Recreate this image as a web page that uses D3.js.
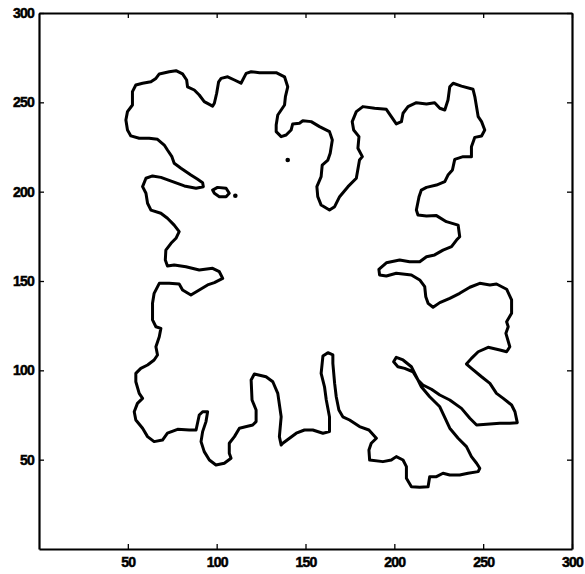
<!DOCTYPE html>
<html>
<head>
<meta charset="utf-8">
<script src="https://cdn.jsdelivr.net/npm/d3@7"></script>
<style>
  html, body { margin: 0; padding: 0; background: #fff; }
  svg { display: block; }
  .tick text { font-family: "Liberation Sans", Arial, sans-serif; font-weight: bold; font-size: 14px; letter-spacing: -0.8px; fill: #000; stroke: #000; stroke-width: 0.5px; }
</style>
</head>
<body>
<svg id="chart" width="585" height="574"></svg>
<script>
// ---- data (data units) ----
const xTicks = [50, 100, 150, 200, 250, 300];
const yTicks = [50, 100, 150, 200, 250, 300];

const outerContour = [
[48.9,240.1],[49.8,244.8],[52.6,248.5],[52.6,256.0],[54.5,259.7],[58.3,260.7],[63.0,261.5],[65.8,263.4],[67.7,265.9],[73.3,267.1],[77.1,267.7],[80.8,265.9],[83.1,262.5],[83.6,258.7],[87.4,256.9],[90.2,254.1],[93.0,250.4],[97.7,247.9],[98.7,249.5],[100.0,255.1],[101.1,261.5],[102.5,263.4],[106.2,264.3],[110.0,262.5],[113.7,260.7],[116.6,266.2],[119.4,267.1],[124.1,266.6],[133.5,266.6],[138.2,264.3],[140.0,258.7],[138.7,253.2],[138.2,248.5],[136.3,245.7],[134.4,242.9],[133.5,237.3],[133.5,233.6],[136.3,230.8],[139.1,231.7],[141.9,234.5],[142.8,237.9],[146.6,238.3],[148.5,239.7],[153.2,239.2],[157.9,236.4],[163.5,233.6],[165.1,228.9],[163.9,221.5],[162.6,217.7],[159.4,214.9],[158.8,208.4],[156.4,202.8],[156.9,197.2],[158.8,192.5],[163.5,189.7],[166.4,191.6],[169.2,197.2],[173.9,202.8],[178.6,207.5],[180.4,217.7],[182.0,219.6],[179.5,224.3],[180.1,230.8],[177.1,234.5],[176.3,239.2],[178.6,244.8],[182.3,247.6],[188.9,246.7],[195.5,246.1],[198.3,242.0],[201.1,237.9],[204.0,239.2],[204.9,243.9],[207.7,247.6],[212.4,249.8],[218.1,249.1],[222.7,249.8],[225.6,246.7],[228.4,245.7],[230.2,251.3],[231.2,258.7],[233.1,260.7],[237.8,259.1],[244.3,257.3],[245.3,253.2],[247.2,242.0],[249.1,239.2],[250.9,234.5],[249.1,231.2],[245.3,230.4],[243.4,225.2],[243.4,219.6],[238.7,219.6],[234.0,218.1],[232.7,212.1],[230.2,209.3],[228.4,205.6],[223.7,203.7],[218.1,202.4],[215.2,200.9],[213.9,197.2],[212.4,189.7],[213.3,186.9],[218.1,186.4],[223.7,186.6],[229.3,183.2],[235.9,181.3],[236.8,174.8],[235.0,172.9],[232.2,169.2],[227.4,167.3],[222.7,164.6],[218.1,163.6],[214.3,160.8],[208.6,160.8],[203.0,161.8],[195.5,160.2],[191.3,156.5],[191.7,153.4],[195.5,152.8],[201.1,154.3],[209.6,153.4],[214.3,150.6],[217.1,146.8],[217.7,141.2],[219.0,137.5],[221.8,135.3],[225.6,137.9],[231.2,140.3],[236.8,143.1],[242.5,146.5],[248.1,148.7],[253.8,147.8],[257.5,148.3],[263.2,145.4],[266.0,139.4],[266.0,131.9],[263.2,127.2],[264.1,124.4],[262.8,120.7],[265.0,113.2],[263.2,110.4],[259.4,111.4],[252.8,112.9],[247.2,110.4],[243.4,106.7],[240.6,103.5],[243.4,101.1],[249.1,96.4],[253.8,92.7],[257.5,87.1],[261.3,84.3],[266.0,80.6],[267.9,76.8],[269.2,70.7],[265.0,70.4],[259.4,70.4],[253.8,70.0],[246.3,69.4],[242.5,73.2],[237.8,78.7],[231.2,83.4],[225.6,86.2],[220.9,89.4],[216.1,91.8],[213.3,94.6],[210.5,99.2],[205.8,101.1],[202.0,102.0],[199.6,104.8],[201.1,107.3],[204.9,105.8],[209.6,102.0],[212.4,96.4],[215.2,90.8],[219.9,85.2],[225.6,79.6],[231.2,67.6],[235.9,62.0],[240.6,57.3],[243.4,51.7],[246.3,48.0],[248.1,45.2],[247.2,43.3],[241.5,42.4],[236.8,41.4],[231.2,41.4],[227.4,42.4],[223.7,40.5],[219.9,40.5],[219.0,34.9],[214.3,34.5],[209.6,34.9],[206.8,39.6],[206.8,46.1],[204.9,49.8],[201.1,51.7],[198.3,49.8],[193.6,48.9],[186.1,49.8],[185.7,55.4],[187.0,59.2],[189.9,62.0],[185.7,66.6],[180.4,68.5],[174.8,72.2],[171.0,74.0],[168.8,77.8],[167.3,85.2],[166.4,92.7],[165.4,103.9],[165.4,108.6],[162.6,109.9],[159.8,108.0],[158.8,98.3],[160.7,90.8],[161.7,83.4],[163.5,74.0],[163.5,65.7],[159.8,64.8],[154.1,66.6],[149.4,66.6],[144.8,64.8],[141.0,62.0],[137.2,59.2],[136.3,58.2],[135.3,62.9],[136.3,74.0],[134.4,87.1],[131.6,93.6],[127.8,96.4],[121.2,97.9],[119.4,94.6],[119.9,83.4],[122.2,77.8],[122.2,71.3],[120.3,69.4],[112.8,67.6],[110.0,62.9],[107.1,59.2],[107.1,53.6],[108.1,50.8],[104.3,48.0],[99.6,47.0],[95.9,49.8],[93.0,54.5],[91.2,60.1],[92.1,65.7],[94.0,71.3],[94.9,76.8],[92.1,76.8],[90.2,75.0],[88.4,66.6],[84.6,66.6],[78.0,67.0],[72.3,64.8],[69.5,61.0],[64.8,60.1],[61.1,62.9],[58.3,67.6],[54.5,72.2],[53.6,76.8],[55.4,81.5],[58.3,84.3],[56.4,87.1],[54.5,93.6],[54.5,98.3],[57.3,101.1],[61.1,103.0],[64.8,105.8],[66.7,108.6],[65.8,113.2],[67.7,118.8],[68.6,123.5],[65.8,124.4],[63.9,128.2],[63.9,137.5],[64.8,143.1],[67.7,148.7],[73.3,148.7],[78.9,148.3],[80.8,145.0],[85.5,142.2],[90.2,145.0],[94.9,147.8],[98.7,149.1],[103.4,151.5],[101.5,155.2],[97.7,157.1],[90.2,156.2],[82.7,158.0],[76.1,159.0],[72.3,158.4],[71.1,161.8],[71.4,167.3],[74.3,171.1],[77.1,173.9],[78.9,177.6],[76.1,181.3],[72.3,185.1],[68.6,187.9],[63.0,189.7],[61.1,193.5],[60.2,199.1],[58.3,202.8],[60.2,207.5],[63.9,208.8],[68.6,208.0],[75.2,205.6],[81.8,203.2],[88.4,201.9],[92.5,202.8],[92.1,205.0],[89.3,206.9],[85.5,209.3],[79.9,213.1],[76.1,215.9],[74.8,219.6],[72.3,223.3],[70.5,226.1],[66.7,229.3],[62.0,229.9],[56.4,229.9],[51.7,231.2],[49.8,234.5]
];

const holeContour = [
[97.7,200.9],[100.5,202.4],[105.3,201.9],[107.1,199.1],[105.3,197.2],[101.5,197.2],[98.7,199.1]
];

const isolatedPoints = [[110.5,197.7],[140.0,217.7]];

// ---- layout ----
const plotLeft = 39, plotRight = 572, plotTop = 13, plotBottom = 549;

const x = d3.scaleLinear().domain([0, 300]).range([plotLeft, plotRight]);
const y = d3.scaleLinear().domain([0, 300]).range([plotBottom, plotTop]);

const svg = d3.select("#chart");

// axes (inward ticks, box)
const axB = svg.append("g").attr("transform", `translate(0,${plotBottom})`)
  .call(d3.axisBottom(x).tickValues(xTicks).tickSizeInner(-5).tickSizeOuter(0).tickPadding(8));
const axL = svg.append("g").attr("transform", `translate(${plotLeft},0)`)
  .call(d3.axisLeft(y).tickValues(yTicks).tickSizeInner(-5).tickSizeOuter(0).tickPadding(5));
const axT = svg.append("g").attr("transform", `translate(0,${plotTop})`)
  .call(d3.axisTop(x).tickValues(xTicks).tickSizeInner(-5).tickSizeOuter(0).tickFormat(""));
const axR = svg.append("g").attr("transform", `translate(${plotRight},0)`)
  .call(d3.axisRight(y).tickValues(yTicks).tickSizeInner(-5).tickSizeOuter(0).tickFormat(""));

[axB, axL, axT, axR].forEach(g => {
  g.select(".domain").attr("stroke", "#000").attr("stroke-width", 2.2);
  g.selectAll(".tick line").attr("stroke", "#000").attr("stroke-width", 1.3);
});

// contour lines
const line = d3.line().x(d => x(d[0])).y(d => y(d[1])).curve(d3.curveLinearClosed);

svg.append("path").datum(outerContour)
  .attr("d", line).attr("fill", "none").attr("stroke", "#000")
  .attr("stroke-width", 3).attr("stroke-linejoin", "round");

svg.append("path").datum(holeContour)
  .attr("d", line).attr("fill", "none").attr("stroke", "#000")
  .attr("stroke-width", 3).attr("stroke-linejoin", "round");

svg.selectAll("circle.pt").data(isolatedPoints).enter().append("circle")
  .attr("class", "pt").attr("cx", d => x(d[0])).attr("cy", d => y(d[1]))
  .attr("r", 2.3).attr("fill", "#000");
</script>
</body>
</html>
